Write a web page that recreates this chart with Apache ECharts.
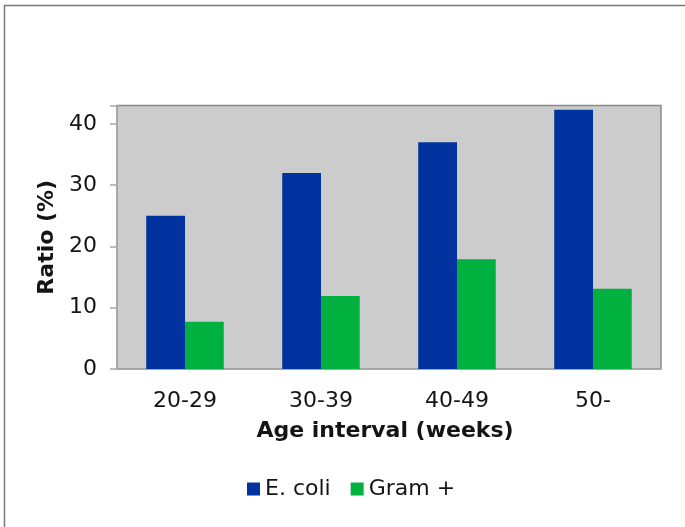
<!DOCTYPE html>
<html>
<head>
<meta charset="utf-8">
<script src="https://cdn.jsdelivr.net/npm/echarts@6/dist/echarts.min.js"></script>
<style>
  html, body { margin: 0; padding: 0; background: #ffffff; overflow: hidden; }
  #chart { width: 685px; height: 527px; }
</style>
</head>
<body>
<div id="chart"></div>
<script>
// Age groups on the x axis
const ageIntervals = ['20-29', '30-39', '40-49', '50-'];
// Share of isolates (%) per age group
const ecoliRatio = [25, 32, 37, 42.3];
const gramPosRatio = [7.7, 11.9, 17.9, 13.1];
// Value axis range and step
const yMin = 0;
const yMax = 43;
const yStep = 10;

const FONT = '"DejaVu Sans", "Liberation Sans", Arial, sans-serif';
const TEXT = '#141414';

const chart = echarts.init(document.getElementById('chart'), null, { renderer: 'canvas' });

chart.setOption({
  backgroundColor: '#ffffff',
  animation: false,
  textStyle: { fontFamily: FONT, color: TEXT },
  graphic: [
    {
      // left edge of the figure frame
      type: 'line',
      shape: { x1: 4.5, y1: 5, x2: 4.5, y2: 540 },
      style: { stroke: '#7a7a7a', lineWidth: 1.5 },
      silent: true,
      z: 100
    },
    {
      // top edge of the figure frame
      type: 'line',
      shape: { x1: 4, y1: 5.5, x2: 700, y2: 5.5 },
      style: { stroke: '#7a7a7a', lineWidth: 1.5 },
      silent: true,
      z: 100
    }
  ],
  grid: {
    left: 117, right: 24, top: 105.5, bottom: 158,
    show: true,
    backgroundColor: '#cccccc',
    borderColor: '#8a8a8a',
    borderWidth: 1.5,
    containLabel: false
  },
  legend: {
    data: ['E. coli', 'Gram +'],
    left: 242,
    top: 473,
    icon: 'rect',
    itemWidth: 13,
    itemHeight: 13,
    itemGap: 20,
    textStyle: { fontFamily: FONT, fontSize: 22, color: TEXT }
  },
  xAxis: {
    type: 'category',
    data: ageIntervals,
    name: 'Age interval (weeks)',
    nameLocation: 'middle',
    nameGap: 51,
    nameTextStyle: { fontFamily: FONT, fontSize: 22, fontWeight: 'bold', color: TEXT, padding: [0, 8, 0, 0] },
    axisLine: { show: true, lineStyle: { color: '#a8a8a8', width: 1.5 } },
    axisTick: { show: false },
    axisLabel: { fontFamily: FONT, fontSize: 22, color: TEXT, margin: 21 },
    splitLine: { show: false }
  },
  yAxis: {
    type: 'value',
    min: yMin,
    max: yMax,
    interval: yStep,
    name: 'Ratio (%)',
    nameLocation: 'middle',
    nameRotate: 90,
    nameGap: 57,
    nameTextStyle: { fontFamily: FONT, fontSize: 22, fontWeight: 'bold', color: TEXT },
    axisLine: { show: true, lineStyle: { color: '#a8a8a8', width: 1.5 } },
    axisTick: { show: true, inside: false, length: 7, lineStyle: { color: '#a8a8a8', width: 1.5 } },
    axisLabel: {
      fontFamily: FONT, fontSize: 22, color: TEXT, margin: 20,
      formatter: function (v) { return v % yStep === 0 ? String(v) : ''; }
    },
    splitLine: { show: false }
  },
  series: [
    {
      name: 'E. coli',
      type: 'bar',
      data: ecoliRatio,
      barGap: '0%',
      barCategoryGap: '43%',
      itemStyle: { color: '#0033a0' }
    },
    {
      name: 'Gram +',
      type: 'bar',
      data: gramPosRatio,
      barGap: '0%',
      barCategoryGap: '43%',
      itemStyle: { color: '#00b140' }
    }
  ]
});
</script>
</body>
</html>
